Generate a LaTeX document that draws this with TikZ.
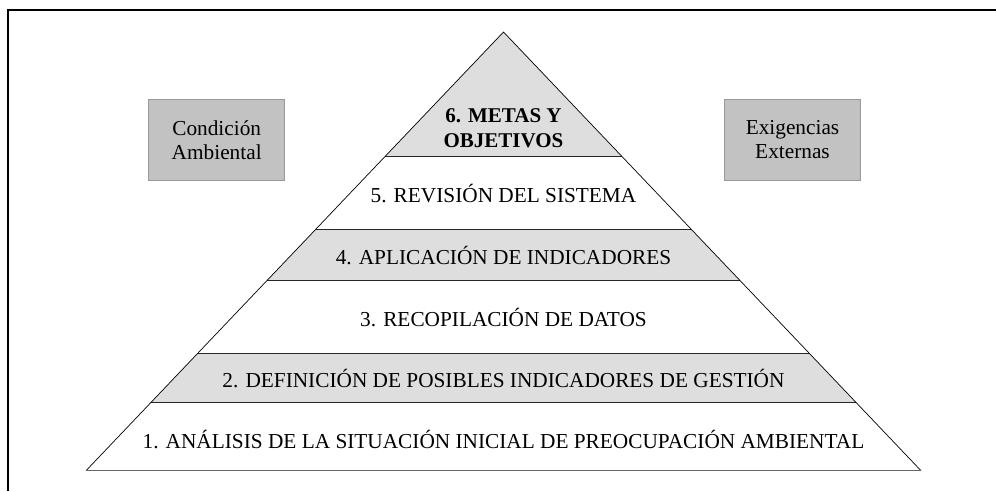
\documentclass[tikz,border=0pt]{standalone}
\usepackage{fontspec}
\setmainfont{Liberation Serif}
\definecolor{bandgray}{gray}{0.87}
\definecolor{boxgray}{gray}{0.76}
\definecolor{boxline}{gray}{0.6}
\tikzset{
  band/.style={fill=bandgray},
  sidebox/.style={draw=boxline, line width=1.2pt, fill=boxgray,
    minimum width=136pt, minimum height=81pt, align=center,
    font=\fontsize{21.3}{24}\selectfont},
  bandtext/.style={font=\fontsize{21.3}{24}\selectfont}
}
\begin{document}
\begin{tikzpicture}[x=1pt, y=-1pt]
   \useasboundingbox (0,0) rectangle (996,491);
   % frame
   \draw[line width=2pt] (8,491) -- (8,10) -- (996,10);
   % bands of the pyramid
   \fill[band]  (503.5,32) -- (622.2,156.7) -- (384.8,156.7) -- cycle;
   \fill[band]  (315.7,229.3) -- (691.3,229.3) -- (740.2,280.7) -- (266.8,280.7) -- cycle;
   \fill[band]  (197.7,353.3) -- (809.3,353.3) -- (856.3,402.7) -- (150.7,402.7) -- cycle;
   \foreach \y/\xl/\xr in {156.7/384.8/622.2, 229.3/315.7/691.3, 280.7/266.8/740.2,
                            353.3/197.7/809.3, 402.7/150.7/856.3}
     \draw[line width=0.9pt, black!85] (\xl,\y) -- (\xr,\y);
   \draw[line width=0.7pt] (86,470.7) -- (503.5,32) -- (921,470.7);
   \draw[line width=0.9pt, black!60] (86,470.7) -- (921,470.7);
   % texts
   \node[align=center, font=\fontsize{21}{25.5}\selectfont\bfseries] (metas) at (503.5,128) {6. METAS Y\\OBJETIVOS};
   \node[bandtext] (revision) at (503.5,194) {5. REVISIÓN DEL SISTEMA};
   \node[bandtext] (aplicacion) at (503.5,255.5) {4. APLICACIÓN DE INDICADORES};
   \node[bandtext] (recopilacion) at (503.5,318) {3. RECOPILACIÓN DE DATOS};
   \node[bandtext] (definicion) at (503.5,378.5) {2. DEFINICIÓN DE POSIBLES INDICADORES DE GESTIÓN};
   \node[bandtext] (analisis) at (503.5,439.5) {1. ANÁLISIS DE LA SITUACIÓN INICIAL DE PREOCUPACIÓN AMBIENTAL};
   \node[sidebox] (condicion) at (216.7,139.7) {Condición\\Ambiental};
   \node[sidebox] (exigencias) at (792.5,139.7) {Exigencias\\Externas};
 \end{tikzpicture}
\end{document}
